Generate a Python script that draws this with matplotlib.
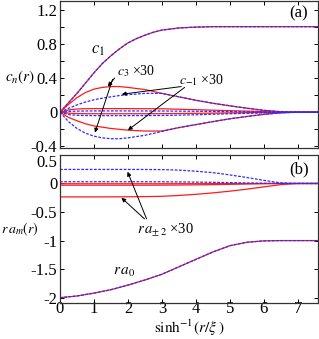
import matplotlib
matplotlib.use('Agg')
import matplotlib.pyplot as plt
from matplotlib.ticker import MultipleLocator, FuncFormatter

plt.rcParams['font.family'] = ['Liberation Serif', 'DejaVu Serif']
plt.rcParams['mathtext.fontset'] = 'stix'
plt.rcParams['axes.unicode_minus'] = False

# ---- panel (a) data (x = asinh(r/xi)) ----
x_c1 = [0, 0.25, 0.5, 0.75, 1.0, 1.25, 1.5, 1.75, 2.0, 2.25, 2.5, 2.75, 3.0, 3.5, 4.0, 4.5, 5.0, 6.0, 7.6]
c1 = [0, 0.11, 0.22, 0.34, 0.46, 0.57, 0.66, 0.74, 0.81, 0.86, 0.90, 0.935, 0.96, 0.985, 0.995, 1.0, 1.0, 1.0, 1.0]

x_hump = [0, 0.25, 0.5, 0.75, 1.0, 1.25, 1.5, 1.75, 2.0, 2.5, 3.0, 3.5, 4.0, 4.5, 5.0, 5.5, 6.0, 6.5, 7.0, 7.6]
c3_red = [0, 0.09, 0.17, 0.23, 0.27, 0.29, 0.30, 0.30, 0.29, 0.265, 0.22,
          0.18, 0.14, 0.105, 0.075, 0.047, 0.022, 0.006, 0, 0]
cm1_blue = [0, 0.045, 0.085, 0.12, 0.145, 0.165, 0.18, 0.195, 0.205, 0.22, 0.22,
            0.18, 0.14, 0.105, 0.075, 0.047, 0.022, 0.006, 0, 0]
cm1_red = [0, -0.06, -0.10, -0.135, -0.16, -0.175, -0.19, -0.20, -0.21, -0.22, -0.22,
           -0.18, -0.145, -0.11, -0.077, -0.05, -0.025, -0.007, 0, 0]
c3_blue = [0, -0.11, -0.19, -0.245, -0.28, -0.30, -0.31, -0.31, -0.30, -0.27, -0.225,
           -0.18, -0.145, -0.11, -0.077, -0.05, -0.025, -0.007, 0, 0]

x_small = [0, 0.3, 0.6, 1.0, 2.0, 3.0, 4.0, 5.0, 6.0, 7.0, 7.6]
small_red_1 = [0, 0.03, 0.04, 0.042, 0.042, 0.04, 0.03, 0.018, 0.008, 0, 0]
small_red_2 = [0, -0.012, -0.017, -0.018, -0.018, -0.017, -0.013, -0.008, -0.003, 0, 0]
small_blue_1 = [0, 0.01, 0.014, 0.015, 0.015, 0.014, 0.011, 0.007, 0.003, 0, 0]
small_blue_2 = [0, -0.03, -0.038, -0.04, -0.04, -0.038, -0.03, -0.018, -0.008, 0, 0]

# ---- panel (b) data ----
x_b = [0, 0.5, 1.0, 1.5, 2.0, 2.5, 3.0, 3.5, 4.0, 4.5, 5.0, 5.5, 6.0, 6.5, 7.0, 7.6]
ra0 = [-2.0, -1.97, -1.92, -1.86, -1.78, -1.69, -1.59, -1.46, -1.33, -1.2, -1.09, -1.03, -1.005, -1.0, -1.0, -1.0]
ra2_blue = [0.246, 0.246, 0.246, 0.246, 0.246, 0.245, 0.243, 0.234, 0.215, 0.19, 0.15, 0.105, 0.055, 0.01, 0, 0]
ra2_red = [-0.235, -0.235, -0.235, -0.234, -0.233, -0.23, -0.225, -0.21, -0.19, -0.165, -0.135, -0.10, -0.06, -0.02, 0, 0]
ra_small_blue = [0.03, 0.03, 0.03, 0.03, 0.03, 0.03, 0.029, 0.027, 0.024, 0.02, 0.015, 0.009, 0.004, 0.001, 0, 0]
ra_small_red1 = [-0.005, -0.005, -0.005, -0.005, -0.005, -0.005, -0.005, -0.004, -0.004, -0.003, -0.002, -0.001, 0, 0, 0, 0]
ra_small_red2 = [-0.03, -0.03, -0.03, -0.03, -0.03, -0.03, -0.029, -0.027, -0.024, -0.02, -0.015, -0.009, -0.004, -0.001, 0, 0]

RED = '#ff1a1a'
BLUE = '#2b2bff'
lw = 0.9
dash = (0, (2.2, 1.2))

fig = plt.figure(figsize=(3.19, 3.39), dpi=100)
ax1 = fig.add_axes([0.188, 0.563, 0.809, 0.434])
ax2 = fig.add_axes([0.188, 0.105, 0.809, 0.438])

# panel (a)
ax1.plot(x_c1, c1, color=RED, lw=lw)
ax1.plot(x_c1, c1, color=BLUE, lw=lw, ls=dash)
for y in [c3_red, cm1_red]:
    ax1.plot(x_hump, y, color=RED, lw=lw)
for y in [small_red_1, small_red_2]:
    ax1.plot(x_small, y, color=RED, lw=lw)
for y in [cm1_blue, c3_blue]:
    ax1.plot(x_hump, y, color=BLUE, lw=lw, ls=dash)
for y in [small_blue_1, small_blue_2]:
    ax1.plot(x_small, y, color=BLUE, lw=lw, ls=dash)

# panel (b)
for y in [ra0, ra2_red, ra_small_red1, ra_small_red2]:
    ax2.plot(x_b, y, color=RED, lw=lw)
for y in [ra0, ra2_blue, ra_small_blue]:
    ax2.plot(x_b, y, color=BLUE, lw=lw, ls=dash)

fmt = FuncFormatter(lambda v, p: '%g' % round(v, 2))
fmt_b = FuncFormatter(lambda v, p: '' if abs(v - 0.5) < 1e-6 else '%g' % round(v, 2))
for ax in (ax1, ax2):
    ax.set_xlim(0, 7.6)
    ax.xaxis.set_major_locator(MultipleLocator(1))
    ax.tick_params(direction='in', top=True, right=True, labelsize=12,
                   length=3, width=0.7, pad=2)
    ax.tick_params(which='minor', direction='in', top=True, right=True, length=3, width=0.7)
    ax.tick_params(axis='x', pad=-1.5)
    for s in ax.spines.values():
        s.set_linewidth(0.9)
        s.set_color('#333333')

ax1.set_ylim(-0.42, 1.3)
ax1.yaxis.set_major_locator(MultipleLocator(0.4))
ax1.yaxis.set_minor_locator(MultipleLocator(0.2))
ax1.yaxis.set_major_formatter(fmt)
ax1.tick_params(labelbottom=False)

ax2.set_ylim(-2.1, 0.5)
ax2.yaxis.set_major_locator(MultipleLocator(0.5))
ax2.yaxis.set_major_formatter(fmt_b)
# top label of panel (b) sits just below the top spine
ax2.text(-0.011, 1.0, '0.5', transform=ax2.transAxes, fontsize=12, ha='right', va='top')

fig.text(0.593, 0.003, r'$\mathrm{sinh}^{-1}(r/\xi\ )$', fontsize=11, ha='center', va='bottom')

ax1.set_ylabel(r'$c_n(r)$', fontsize=11, rotation=0, ha='center', va='center')
ax1.yaxis.set_label_coords(-0.155, 0.48)
ax2.set_ylabel(r'$r\,a_m(r)$', fontsize=10, rotation=0, ha='center', va='center')
ax2.yaxis.set_label_coords(-0.155, 0.5)

# annotations
ax1.text(7.04, 1.15, '(a)', fontsize=12, ha='center', va='center')
ax2.text(7.04, 0.25, '(b)', fontsize=12, ha='center', va='center')
ax1.text(1.12, 0.73, r'$c_1$', fontsize=12, ha='center', va='center')
ax1.text(1.67, 0.48, r'$c_3$ ×30', fontsize=10, ha='left', va='center')
ax1.text(3.52, 0.37, r'$c_{-1}$ ×30', fontsize=10, ha='left', va='center')
ax2.text(2.26, -0.81, r'$r\,a_{\pm\,2}$ ×30', fontsize=10.5, ha='left', va='center')
ax2.text(1.55, -1.55, r'$r\,a_0$', fontsize=11, ha='left', va='center')

arrow = dict(arrowstyle='-|>', color='black', lw=0.7, mutation_scale=6, shrinkA=0, shrinkB=0)
ax1.annotate('', xy=(1.41, 0.30), xytext=(1.61, 0.40), arrowprops=arrow)
ax1.annotate('', xy=(1.03, -0.238), xytext=(1.55, 0.385), arrowprops=arrow)
ax1.annotate('', xy=(1.82, 0.21), xytext=(3.57, 0.30), arrowprops=arrow)
ax1.annotate('', xy=(2.0, -0.21), xytext=(3.67, 0.29), arrowprops=arrow)
ax2.annotate('', xy=(1.81, -0.25), xytext=(2.49, -0.62), arrowprops=arrow)
ax2.annotate('', xy=(1.99, 0.206), xytext=(2.55, -0.62), arrowprops=arrow)

fig.savefig('out.png', dpi=100)
